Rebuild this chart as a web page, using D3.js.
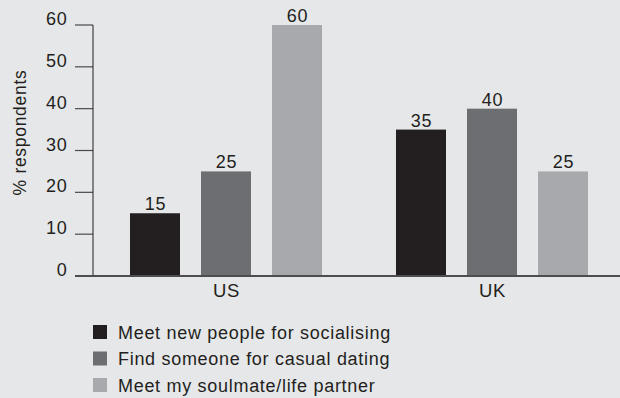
<!DOCTYPE html>
<html>
<head>
<meta charset="utf-8">
<script src="https://cdn.jsdelivr.net/npm/d3@7"></script>
<style>
  html, body { margin: 0; padding: 0; background: #e6e7e8; }
  svg { display: block; }
  text { font-family: "Liberation Sans", Arial, Helvetica, sans-serif; fill: #231f20; letter-spacing: 0.7px; }
</style>
</head>
<body>
<script>
const categories = ["US", "UK"];
const seriesNames = ["Meet new people for socialising", "Find someone for casual dating", "Meet my soulmate/life partner"];
const socialising = [15, 35];
const casualDating = [25, 40];
const soulmate = [60, 25];
const yTicks = [0, 10, 20, 30, 40, 50, 60];
const yLabel = "% respondents";
const colors = ["#231f20", "#6d6e71", "#a7a9ac"];

const seriesValues = [socialising, casualDating, soulmate];
const data = categories.map((c, i) => ({ cat: c, vals: seriesNames.map((s, j) => ({ s, v: seriesValues[j][i], j })) }));

const W = 620, H = 398;
const svg = d3.select("body").append("svg").attr("width", W).attr("height", H);
svg.append("rect").attr("width", W).attr("height", H).attr("fill", "#e6e7e8");

const y = d3.scaleLinear().domain([0, 60]).range([276, 25]);
const x0 = d3.scaleBand().domain(categories).range([93, 625]).padding(0);
const x1 = d3.scaleBand().domain(seriesNames).range([0, x0.bandwidth()]).paddingInner(21 / 71).paddingOuter(0.521);

// y axis
const axisX = 93;
const yAxis = svg.append("g");
yAxis.selectAll("line.tick").data(yTicks.filter(t => t > 0)).join("line")
  .attr("x1", 75).attr("x2", axisX)
  .attr("y1", d => y(d)).attr("y2", d => y(d))
  .attr("stroke", "#4a4a4c").attr("stroke-width", 1.2);
yAxis.append("line").attr("x1", axisX).attr("x2", axisX).attr("y1", y(60)).attr("y2", y(0))
  .attr("stroke", "#231f20").attr("stroke-width", 1);
yAxis.selectAll("text").data(yTicks).join("text")
  .attr("x", 67.5).attr("y", d => y(d))
  .attr("text-anchor", "end").attr("font-size", 18)
  .text(d => d);

svg.append("text")
  .attr("transform", `translate(25.5, 132.5) rotate(-90)`)
  .attr("text-anchor", "middle").attr("font-size", 17.5)
  .text(yLabel);

// bars
const groups = svg.selectAll("g.grp").data(data).join("g")
  .attr("transform", d => `translate(${x0(d.cat)},0)`);
groups.selectAll("rect").data(d => d.vals).join("rect")
  .attr("x", d => x1(d.s)).attr("width", x1.bandwidth())
  .attr("y", d => y(d.v)).attr("height", d => y(0) - y(d.v))
  .attr("fill", d => colors[d.j]);
groups.selectAll("text.val").data(d => d.vals).join("text")
  .attr("class", "val")
  .attr("x", d => x1(d.s) + x1.bandwidth() / 2 + 0.5)
  .attr("y", d => y(d.v) - 3)
  .attr("text-anchor", "middle").attr("font-size", 18)
  .text(d => d.v);

// baseline
svg.append("line").attr("x1", 75).attr("x2", W).attr("y1", y(0)).attr("y2", y(0))
  .attr("stroke", "#4d4d4f").attr("stroke-width", 2);

// category labels
svg.selectAll("text.cat").data(categories).join("text")
  .attr("class", "cat")
  .attr("x", d => x0(d) + x0.bandwidth() / 2 + 0.5)
  .attr("y", 297)
  .attr("text-anchor", "middle").attr("font-size", 18.5)
  .text(d => d);

// legend
const leg = svg.selectAll("g.leg").data(seriesNames).join("g")
  .attr("transform", (d, i) => `translate(93, ${325 + i * 26.5})`);
leg.append("rect").attr("width", 14).attr("height", 14).attr("fill", (d, i) => colors[i]);
leg.append("text").attr("x", 25).attr("y", 13.5).attr("font-size", 18).text(d => d);
</script>
</body>
</html>
